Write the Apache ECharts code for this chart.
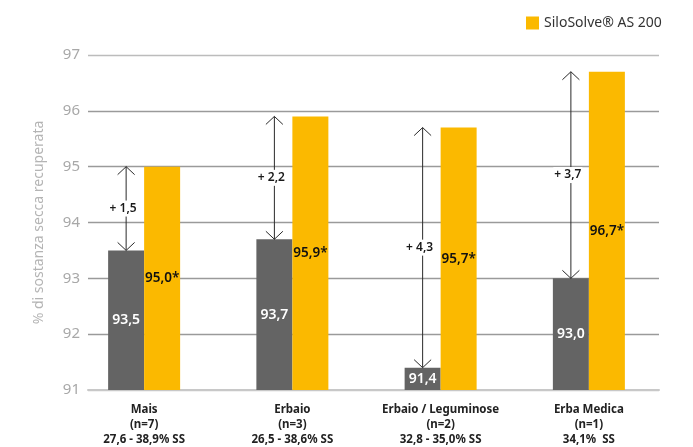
<!DOCTYPE html>
<html>
<head>
<meta charset="utf-8">
<script src="https://cdn.jsdelivr.net/npm/echarts@6/dist/echarts.min.js"></script>
<style>
  html, body { margin: 0; padding: 0; background: #fff; }
  #chart { width: 693px; height: 447px; }
</style>
</head>
<body>
<div id="chart"></div>
<script>
// Categories (silage types), sample counts and dry-matter ranges
const categories = ['Mais', 'Erbaio', 'Erbaio / Leguminose', 'Erba Medica'];
const sampleCounts = ['(n=7)', '(n=3)', '(n=2)', '(n=1)'];
const dmRanges = ['27,6 - 38,9% SS', '26,5 - 38,6% SS', '32,8 - 35,0% SS', '34,1%  SS'];

// Recovered dry matter (%)
const controlValues = [93.5, 93.7, 91.4, 93.0];
const siloSolveValues = [95.0, 95.9, 95.7, 96.7];
const differenceLabels = ['+ 1,5', '+ 2,2', '+ 4,3', '+ 3,7'];

// Value axis ticks
const yTicks = [91, 92, 93, 94, 95, 96, 97];

const GRAY = '#646464';
const YELLOW = '#FBB900';
const FONT = '"Noto Sans", "Open Sans", sans-serif';
const BAR_W = 36;

const fmt = v => v.toFixed(1).replace('.', ',');

const arrowData = categories.map((c, i) => [i, controlValues[i], siloSolveValues[i], differenceLabels[i]]);

const chart = echarts.init(document.getElementById('chart'), null, { renderer: 'canvas' });

chart.setOption({
  animation: false,
  backgroundColor: '#fff',
  legend: {
    data: [{ name: 'SiloSolve® AS 200' }],
    left: 521,
    top: 11,
    itemWidth: 13,
    itemHeight: 13,
    icon: 'rect',
    itemGap: 8,
    textStyle: { fontFamily: FONT, fontSize: 14, color: '#333' }
  },
  grid: [
    { left: 70, right: 30, top: 55, bottom: 57 },
    { left: 88, right: 34, top: 55, bottom: 57 }
  ],
  xAxis: [
    {
      type: 'category',
      gridIndex: 0,
      data: categories,
      axisLine: { show: false },
      axisTick: { show: false },
      axisLabel: {
        margin: 12,
        interval: 0,
        fontFamily: FONT,
        fontSize: 11.5,
        fontWeight: 'bold',
        color: '#222',
        lineHeight: 15,
        formatter: (v, i) => v + '\n' + sampleCounts[i] + '\n' + dmRanges[i]
      }
    },
    {
      type: 'value',
      gridIndex: 1,
      min: 0, max: 1,
      axisLine: { show: true, lineStyle: { color: '#c8c8c8', width: 2 } },
      axisTick: { show: false },
      axisLabel: { show: false },
      splitLine: { show: false }
    }
  ],
  yAxis: [
    {
      type: 'value',
      gridIndex: 0,
      min: yTicks[0],
      max: yTicks[yTicks.length - 1],
      interval: 1,
      show: false
    },
    {
      type: 'value',
      gridIndex: 1,
      min: yTicks[0],
      max: yTicks[yTicks.length - 1],
      interval: 1,
      name: '% di sostanza secca recuperata',
      nameLocation: 'middle',
      nameGap: 42,
      nameTextStyle: { fontFamily: FONT, fontSize: 14, color: '#b4b4b4' },
      axisLine: { show: false },
      axisTick: { show: false },
      axisLabel: {
        margin: 8,
        fontFamily: FONT,
        fontSize: 15,
        color: '#a8a8a8',
        formatter: v => yTicks.includes(v) ? String(v) : ''
      },
      splitLine: {
        show: true,
        lineStyle: { color: ['#c8c8c8', '#9a9a9a', '#9a9a9a', '#9a9a9a', '#9a9a9a', '#9a9a9a', '#bcbcbc'], width: 1.3 }
      }
    }
  ],
  series: [
    {
      name: 'Controllo',
      type: 'bar',
      xAxisIndex: 0, yAxisIndex: 0,
      data: controlValues,
      barWidth: BAR_W,
      barGap: '0%',
      itemStyle: { color: GRAY },
      label: {
        show: true,
        position: 'inside',
        fontFamily: FONT,
        fontSize: 14,
        fontWeight: 600,
        color: '#fff',
        formatter: p => fmt(p.value)
      },
      z: 3
    },
    {
      name: 'SiloSolve® AS 200',
      type: 'bar',
      xAxisIndex: 0, yAxisIndex: 0,
      data: siloSolveValues,
      barWidth: BAR_W,
      barGap: '0%',
      itemStyle: { color: YELLOW },
      label: {
        show: true,
        position: 'inside',
        fontFamily: FONT,
        fontSize: 13.5,
        fontWeight: 600,
        color: '#111',
        formatter: p => fmt(p.value) + '*'
      },
      z: 3
    },
    {
      name: 'differenza',
      type: 'custom',
      xAxisIndex: 0, yAxisIndex: 0,
      data: arrowData,
      z: 5,
      silent: true,
      renderItem: (params, api) => {
        const lo = api.coord([api.value(0), api.value(1)]);
        const hi = api.coord([api.value(0), api.value(2)]);
        const x = lo[0] - BAR_W / 2;
        const y1 = hi[1], y2 = lo[1];
        const h = 8, w = 8.5;
        const stroke = { stroke: '#2a2a2a', lineWidth: 1, fill: null };
        return {
          type: 'group',
          children: [
            { type: 'line', shape: { x1: x, y1: y1, x2: x, y2: y2 }, style: stroke },
            { type: 'polyline', shape: { points: [[x - w, y1 + h], [x, y1], [x + w, y1 + h]] }, style: stroke },
            { type: 'polyline', shape: { points: [[x - w, y2 - h], [x, y2], [x + w, y2 - h]] }, style: stroke },
            {
              type: 'text',
              x: x - 3, y: (y1 + y2) / 2,
              style: {
                text: arrowData[params.dataIndex][3],
                fontFamily: FONT,
                fontSize: 12,
                fontWeight: 600,
                fill: '#1a1a1a',
                align: 'center',
                verticalAlign: 'middle',
                backgroundColor: '#fff',
                padding: [2, 1]
              }
            }
          ]
        };
      }
    }
  ]
});
</script>
</body>
</html>
